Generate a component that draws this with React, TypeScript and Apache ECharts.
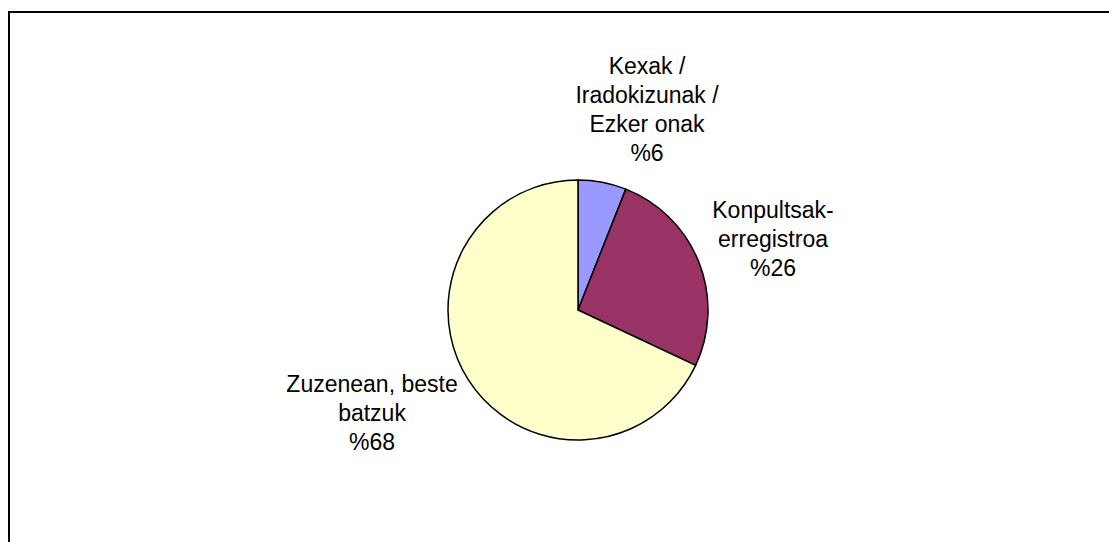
import React, { useEffect, useRef } from "react";
import * as echarts from "echarts";

const categories = ["Kexak /\nIradokizunak /\nEzker onak", "Konpultsak-\nerregistroa", "Zuzenean, beste\nbatzuk"];
const values = [6, 26, 68];
const colors = ["#9999FF", "#993366", "#FFFFCC"];
const labelPos = [
  [647, 109],
  [773, 239],
  [372, 413],
];

export default function App() {
  const ref = useRef<HTMLDivElement>(null);
  useEffect(() => {
    if (!ref.current) return;
    const chart = echarts.init(ref.current, null, { renderer: "svg" });
    chart.setOption({
      animation: false,
      backgroundColor: "#ffffff",
      graphic: [
        {
          type: "rect",
          shape: { x: 9, y: 12, width: 1300, height: 700 },
          style: { fill: "none", stroke: "#000", lineWidth: 2 },
          silent: true,
        },
      ],
      series: [
        {
          type: "pie",
          center: [578, 310],
          radius: 130,
          startAngle: 90,
          clockwise: true,
          data: categories.map((c, i) => ({ name: c, value: values[i], itemStyle: { color: colors[i] } })),
          itemStyle: { borderColor: "#000", borderWidth: 1.5 },
          label: {
            show: true,
            position: "outside",
            formatter: (p: any) => `${p.name}\n%${p.value}`,
            fontFamily: "Liberation Sans, Arial, sans-serif",
            fontSize: 23,
            lineHeight: 29,
            color: "#000",
            align: "center",
          },
          labelLine: { show: false },
          labelLayout: (p: any) => ({
            x: labelPos[p.dataIndex][0],
            y: labelPos[p.dataIndex][1],
            align: "center",
            verticalAlign: "middle",
          }),
          emphasis: { disabled: true },
        },
      ],
    });
    return () => chart.dispose();
  }, []);
  return <div ref={ref} style={{ position: "fixed", left: 0, top: 0, width: 1109, height: 542 }} />;
}
